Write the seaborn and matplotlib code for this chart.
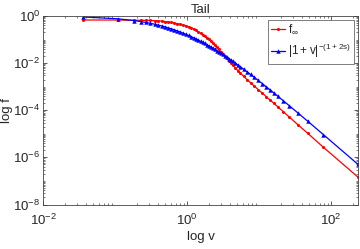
import numpy as np
import pandas as pd
import seaborn as sns
import matplotlib
matplotlib.use("Agg")
import matplotlib.pyplot as plt
from matplotlib.ticker import LogLocator, NullFormatter

# grid of v
v = [0.0363, 0.109, 0.185, 0.230, 0.270, 0.311, 0.354, 0.396, 0.443, 0.492,
     0.545, 0.604, 0.667, 0.733, 0.805, 0.880, 0.962, 1.049, 1.140, 1.235,
     1.334, 1.436, 1.540, 1.647, 1.756, 1.872, 1.995, 2.127, 2.268, 2.417,
     2.577, 2.748, 2.929, 3.123, 3.329, 3.548, 3.795, 4.058, 4.355, 4.688,
     5.06, 5.53, 6.11, 6.81, 7.64, 8.63, 9.77, 11.07, 12.55, 14.22,
     16.10, 18.2, 21.8, 26.4, 34.5, 47.5, 78.2, 237.0]

# log10 f_inf (red)
log_finf = [-0.170, -0.170, -0.180, -0.183, -0.187, -0.190, -0.200, -0.206, -0.215, -0.235,
            -0.253, -0.272, -0.300, -0.326, -0.352, -0.385, -0.415, -0.456, -0.503, -0.553,
            -0.611, -0.667, -0.725, -0.790, -0.853, -0.915, -0.978, -1.065, -1.150, -1.235,
            -1.325, -1.420, -1.515, -1.610, -1.705, -1.800, -1.900, -2.000, -2.100, -2.205,
            -2.315, -2.430, -2.560, -2.700, -2.835, -2.980, -3.125, -3.270, -3.420, -3.565,
            -3.710, -3.855, -4.065, -4.290, -4.610, -4.980, -5.570, -6.840]

# log10 |1+v|^-(1+2s) (blue)
log_tail = [-0.041, -0.119, -0.195, -0.238, -0.275, -0.312, -0.349, -0.384, -0.422, -0.460,
            -0.501, -0.544, -0.588, -0.633, -0.680, -0.727, -0.776, -0.826, -0.876, -0.926,
            -0.975, -1.025, -1.073, -1.120, -1.167, -1.214, -1.262, -1.312, -1.363, -1.414,
            -1.467, -1.521, -1.575, -1.630, -1.686, -1.743, -1.804, -1.865, -1.931, -2.001,
            -2.074, -2.160, -2.255, -2.366, -2.482, -2.606, -2.735, -2.867, -3.000, -3.133,
            -3.267, -3.401, -3.599, -3.810, -4.108, -4.467, -5.032, -6.298]

df = pd.DataFrame({"v": v,
                   "finf": 10 ** np.array(log_finf),
                   "tail": 10 ** np.array(log_tail)})

sns.set_style("ticks")
plt.rcParams["font.family"] = ["Liberation Sans", "DejaVu Sans"]
plt.rcParams["mathtext.default"] = "regular"

fig = plt.figure(figsize=(3.6, 2.49), dpi=100)
ax = fig.add_axes([43 / 360, 1 - 204.5 / 249, 315 / 360, 188.5 / 249])

sns.lineplot(data=df, x="v", y="finf", ax=ax, color="red", marker="o",
             markersize=2.2, markeredgewidth=0, linewidth=0.9,
             estimator=None, label=r"$f_{\infty}$")
sns.lineplot(data=df, x="v", y="tail", ax=ax, color="blue", marker="^",
             markersize=3.2, markeredgewidth=0, linewidth=0.9,
             estimator=None, label=r"$|1+v|^{-(1+2s)}$")

ax.set_xscale("log")
ax.set_yscale("log")
ax.set_xlim(0.01, 237)
ax.set_ylim(1e-8, 1)
ax.set_xticks([1e-2, 1e0, 1e2])
ax.set_yticks([1e-8, 1e-6, 1e-4, 1e-2, 1e0])
ax.xaxis.set_minor_locator(LogLocator(base=10, subs=np.arange(2, 10), numticks=20))
ax.yaxis.set_minor_locator(LogLocator(base=10, subs=np.arange(1, 10), numticks=40))
ax.xaxis.set_minor_formatter(NullFormatter())
ax.yaxis.set_minor_formatter(NullFormatter())
ax.tick_params(which="both", direction="in", top=True, right=True,
               color="#444444", labelsize=9.5)
ax.tick_params(axis="y", pad=2)
ax.tick_params(axis="x", pad=6)
ax.tick_params(which="major", length=3, width=0.6)
ax.tick_params(which="minor", length=1.6, width=0.5)
for sp in ax.spines.values():
    sp.set_visible(True)
    sp.set_linewidth(0.6)
    sp.set_color("#444444")

ax.set_xlabel("log v", fontsize=9.5, labelpad=2)
ax.set_ylabel("log f", fontsize=9.5, labelpad=0)
ax.set_title("Tail", fontsize=9.5, pad=2)

leg = ax.legend(loc="upper right", fontsize=8.5, frameon=True, fancybox=False,
                handlelength=1.2, handletextpad=0.2, borderpad=0.3,
                labelspacing=0.5, borderaxespad=0.3)
leg.get_frame().set_edgecolor("#444444")
leg.get_frame().set_linewidth(0.6)

fig.savefig("out.png", dpi=100)
